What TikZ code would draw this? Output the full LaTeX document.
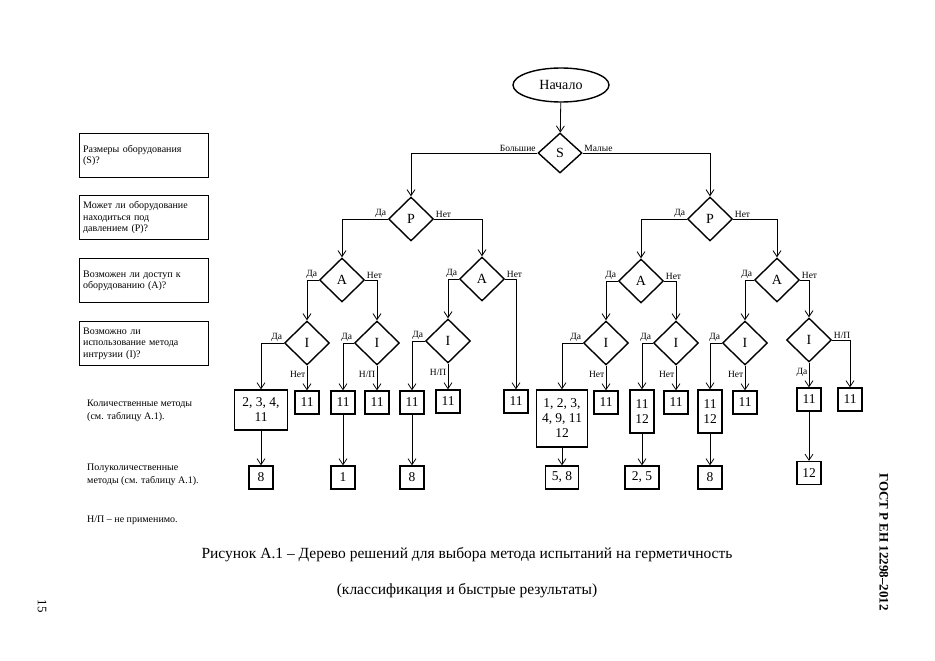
\documentclass[tikz,border=0pt]{standalone}
\usepackage{fontspec}
\setmainfont{Liberation Serif}
\usetikzlibrary{shapes.geometric,arrows.meta}
\newcommand{\NPl}{Н/П}
\begin{document}
\begin{tikzpicture}[x=1pt,y=-1pt,
  dia/.style={diamond,draw,line width=1.4pt,minimum width=45,minimum height=44,inner sep=0pt,font=\fontsize{14}{14}\selectfont},
  box/.style={draw,line width=1.3pt,minimum width=24,minimum height=23,inner sep=1pt,align=center,font=\fontsize{13.5}{15}\selectfont},
  qbox/.style={draw,line width=1.3pt,minimum width=129,minimum height=44,inner sep=3pt,align=left,anchor=north west,text width=122,font=\fontsize{10}{11.5}\selectfont},
  arr/.style={draw,line width=0.8pt,-{Straight Barb[length=6pt,width=8pt,line width=0.8pt]}},
  lab/.style={font=\fontsize{9.5}{10}\selectfont,inner sep=1.5pt},
  txt/.style={font=\fontsize{10}{12.5}\selectfont,align=left,anchor=north west,inner sep=0pt}]
\useasboundingbox (0,0) rectangle (935,661);
% start
\node[ellipse,draw,line width=1.4pt,minimum width=96,minimum height=34,font=\fontsize{14}{14}\selectfont] (start) at (561,85) {Начало};
\node[dia,minimum width=44,minimum height=40] (S) at (560,153) {S};
\draw[arr] (start) -- (S);
% P
\node[dia] (P1) at (411,219) {P};
\node[dia] (P2) at (710,219) {P};
\draw[arr] (S.west) -| (P1.north);
\draw[arr] (S.east) -| (P2.north);
\node[lab,above left] at (S.west) {Большие};
\node[lab,above right] at (S.east) {Малые};
% A
\node[dia] (A1) at (342,280) {A};
\node[dia] (A2) at (482,279) {A};
\node[dia] (A3) at (641,281) {A};
\node[dia] (A4) at (777,280) {A};
\foreach \p/\l/\r in {P1/A1/A2,P2/A3/A4}{
  \draw[arr] (\p.west) -| (\l.north);
  \draw[arr] (\p.east) -| (\r.north);
  \node[lab,above left] at (\p.west) {Да};
  \node[lab,above right] at (\p.east) {Нет};}
% I
\node[dia] (I1) at (307,343) {I};
\node[dia] (I2) at (377,343) {I};
\node[dia] (I3) at (448,341) {I};
\node[dia] (I4) at (606,343) {I};
\node[dia] (I5) at (676,343) {I};
\node[dia] (I6) at (745,343) {I};
\node[dia] (I7) at (809,340) {I};
\foreach \a/\l/\r in {A1/I1/I2,A3/I4/I5,A4/I6/I7}{
  \draw[arr] (\a.west) -| (\l.north);
  \draw[arr] (\a.east) -| (\r.north);
  \node[lab,above left] at (\a.west) {Да};
  \node[lab,above right] at (\a.east) {Нет};}
\draw[arr] (A2.west) -| (I3.north);
\node[lab,above left] at (A2.west) {Да};
\node[lab,above right] at (A2.east) {Нет};
% boxes
\node[box,minimum width=53,minimum height=40] (b1) at (261,410) {2, 3, 4,\\11};
\node[box] (b2) at (307,402.5) {11};
\node[box] (b3) at (343,402.5) {11};
\node[box] (b4) at (377,402.5) {11};
\node[box] (b5) at (412,402.5) {11};
\node[box] (b6) at (448,401.5) {11};
\node[box] (b7) at (516,401.5) {11};
\node[box,minimum width=51,minimum height=57] (b8) at (562,418.5) {1, 2, 3,\\4, 9, 11\\12};
\node[box] (b9) at (606,402.5) {11};
\node[box,minimum height=43] (b10) at (642,411.5) {11\\12};
\node[box] (b11) at (676,402.5) {11};
\node[box,minimum height=43] (b12) at (710,411.5) {11\\12};
\node[box] (b13) at (745,402.5) {11};
\node[box] (b14) at (809,399.5) {11};
\node[box] (b15) at (850,399.5) {11};
\draw[arr] (A2.east) -| (b7.north);
\foreach \i/\l/\b/\t in {I1/b1/b2/Нет,I2/b3/b4/\NPl,I3/b5/b6/\NPl,I4/b8/b9/Нет,I5/b10/b11/Нет,I6/b12/b13/Нет}{
  \draw[arr] (\i.west) -| (\l.north);
  \draw[arr] (\i.south) -- (\b.north);
  \node[lab,above left] at (\i.west) {Да};
  \node[lab,below left,yshift=-4pt] at (\i.south) {\t};}
\draw[arr] (I7.south) -- (b14.north);
\draw[arr] (I7.east) -| (b15.north);
\node[lab,below left,yshift=-4pt] at (I7.south) {Да};
\node[lab,above right] at (I7.east) {Н/П};
% bottom boxes
\node[box] (c1) at (261,477.5) {8};
\node[box] (c2) at (343,477.5) {1};
\node[box] (c3) at (412,477.5) {8};
\node[box,minimum width=33] (c4) at (562,477.5) {5, 8};
\node[box,minimum width=34] (c5) at (642,477.5) {2, 5};
\node[box] (c6) at (710,477.5) {8};
\node[box] (c7) at (809,473) {12};
\foreach \a/\b in {b1/c1,b3/c2,b5/c3,b8/c4,b10/c5,b12/c6,b14/c7}
  \draw[arr] (\a.south) -- (\b.north);
% questions
\node[qbox] (q1) at (79,133) {Размеры оборудования\\(S)?};
\node[qbox] (q2) at (79,195) {Может ли оборудование\\находиться под\\давлением (P)?};
\node[qbox] (q3) at (79,258) {Возможен ли доступ к\\оборудованию (A)?};
\node[qbox] (q4) at (79,321) {Возможно ли\\использование метода\\интрузии (I)?};
\node[txt] (t1) at (87,400) {Количественные методы\\(см. таблицу А.1).};
\node[txt] (t2) at (87,464) {Полуколичественные\\методы (см. таблицу А.1).};
\node[txt] (t3) at (87,516) {Н/П – не применимо.};
\node[font=\fontsize{15.5}{17}\selectfont] (cap1) at (467,555) {Рисунок А.1 – Дерево решений для выбора метода испытаний на герметичность};
\node[font=\fontsize{15.5}{17}\selectfont] (cap2) at (467,591) {(классификация и быстрые результаты)};
\node[rotate=-90,font=\fontsize{13}{14}\selectfont] (pg) at (42,606) {15};
\node[rotate=-90,font=\bfseries\fontsize{13}{14}\selectfont] (gost) at (884,542) {ГОСТ Р ЕН 12298–2012};
\end{tikzpicture}
\end{document}
